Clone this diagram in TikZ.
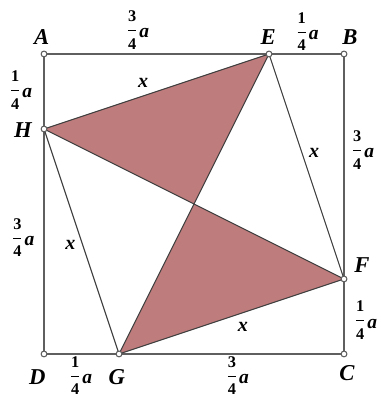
\documentclass[tikz,border=0pt]{standalone}
\usepackage{fontspec}
\setmainfont{Liberation Serif}
\usetikzlibrary{calc}
\definecolor{triangred}{RGB}{190,124,124}
\definecolor{edgegray}{RGB}{95,95,95}
\definecolor{linedark}{RGB}{60,60,60}
\newcommand{\qfrac}[1]{$\displaystyle\frac{\hbox{\fontsize{6.2}{7}\selectfont\bfseries #1}}{\hbox{\fontsize{6.2}{7}\selectfont\bfseries 4}}$\raisebox{-0.3ex}{\textbf{\textit{a}}}}

\begin{document}
\begin{tikzpicture}[x=1cm, y=1cm,
    vertex/.style={circle, draw=edgegray, fill=white, inner sep=0pt, minimum size=2.2pt},
    letter/.style={font=\fontsize{8.6}{9}\selectfont\bfseries\itshape},
    len/.style={font=\fontsize{7.4}{8}\selectfont, inner sep=0pt},
    side/.style={font=\fontsize{7.6}{8}\selectfont\bfseries\itshape, inner sep=0pt}]
        \useasboundingbox (-0.587,-0.587) rectangle (4.48,4.72);
        % Points
        \coordinate (A) at (0,4);
        \coordinate (B) at (4,4);
        \coordinate (C) at (4,0);
        \coordinate (D) at (0,0);
        \coordinate (E) at (3,4);
        \coordinate (F) at (4,1);
        \coordinate (G) at (1,0);
        \coordinate (H) at (0,3);
        \coordinate (O) at (2,2);

        % Shaded triangles
        \fill[triangred] (H) -- (E) -- (O) -- cycle;
        \fill[triangred] (O) -- (F) -- (G) -- cycle;

        % Square and inner lines
        \draw[edgegray] (A) -- (B) -- (C) -- (D) -- cycle;
        \draw[linedark] (H) -- (E) -- (F) -- (G) -- cycle;
        \draw[linedark] (H) -- (F);
        \draw[linedark] (E) -- (G);

        % Vertex circles
        \foreach \p in {A,B,C,D,E,F,G,H} {
          \node[vertex] (v\p) at (\p) {};
        }

        % Letters
        \node[letter] (lA) at (-0.03,4.23) {A};
        \node[letter] (lB) at (4.08,4.23) {B};
        \node[letter] (lC) at (4.04,-0.25) {C};
        \node[letter] (lD) at (-0.09,-0.31) {D};
        \node[letter] (lE) at (2.99,4.23) {E};
        \node[letter] (lF) at (4.24,1.19) {F};
        \node[letter] (lG) at (0.97,-0.31) {G};
        \node[letter] (lH) at (-0.28,2.99) {H};

        % Lengths
        \node[len] (lAE) at (1.24,4.32) {\qfrac{3}};
        \node[len] (lEB) at (3.50,4.30) {\qfrac{1}};
        \node[len] (lBF) at (4.24,2.72) {\qfrac{3}};
        \node[len] (lFC) at (4.28,0.45) {\qfrac{1}};
        \node[len] (lGC) at (2.57,-0.29) {\qfrac{3}};
        \node[len] (lDG) at (0.48,-0.29) {\qfrac{1}};
        \node[len] (lHD) at (-0.29,1.55) {\qfrac{3}};
        \node[len] (lAH) at (-0.32,3.52) {\qfrac{1}};

        % Sides x
        \node[side] (xHE) at (1.32,3.61) {x};
        \node[side] (xEF) at (3.60,2.68) {x};
        \node[side] (xFG) at (2.65,0.36) {x};
        \node[side] (xGH) at (0.35,1.45) {x};
      \end{tikzpicture}
\end{document}
